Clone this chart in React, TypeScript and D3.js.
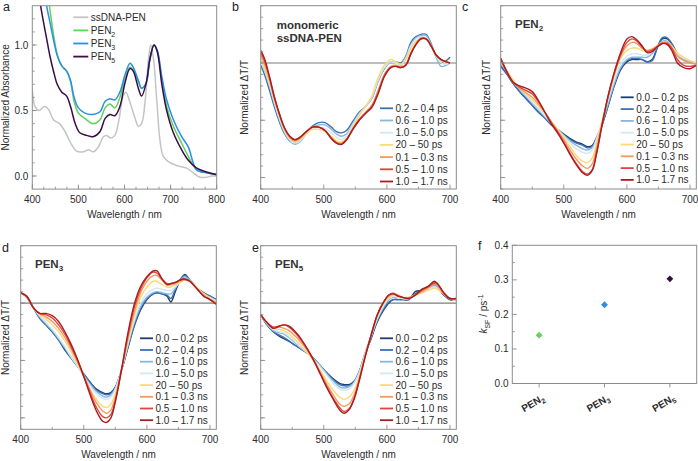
import React from "react";
import * as d3 from "d3";

const FONT = "'Liberation Sans', Arial, Helvetica, sans-serif";
const TXT = "#2b2b2b";
const FRAME = "#8c8c8c";

// ---------- Panel a: steady-state absorbance ----------
const A_SS_WL = [400, 406, 415, 426, 435, 446, 459, 471, 482, 496, 511, 522, 532, 543, 554, 561, 570, 579, 588, 597, 603, 613, 623, 630, 637, 645, 652, 657, 663, 670, 677, 684, 695, 713, 735, 749, 764, 778, 789, 800];
const A_SS_V = [0.66, 0.53, 0.5, 0.53, 0.51, 0.43, 0.4, 0.34, 0.26, 0.19, 0.185, 0.2, 0.185, 0.22, 0.3, 0.31, 0.29, 0.31, 0.43, 0.61, 0.64, 0.55, 0.44, 0.38, 0.4, 0.58, 0.89, 1.0, 0.89, 0.58, 0.27, 0.15, 0.11, 0.08, 0.06, 0.025, -0.01, -0.01, 0.0, 0.0];
const A_P2_WL = [430, 437, 446, 454, 464, 474.5, 483, 490, 500, 514, 532, 547, 558, 568.5, 579, 590, 601, 612, 619, 630, 637, 647, 655, 664, 671, 681, 691.5, 706, 724, 738.5, 756.6, 778, 800];
const A_P2_V = [1.5, 1.3, 1.08, 0.93, 0.84, 0.8, 0.72, 0.58, 0.48, 0.44, 0.4, 0.43, 0.52, 0.55, 0.52, 0.6, 0.74, 0.83, 0.81, 0.72, 0.67, 0.71, 0.89, 1.0, 0.96, 0.73, 0.53, 0.38, 0.25, 0.15, 0.046, 0.025, 0.01];
const A_P3_WL = [424, 431, 438, 446, 454, 464, 474.5, 483, 490, 500, 514, 532, 547, 558, 568.5, 579, 590, 601, 612, 619, 630, 637, 647, 655, 664, 671, 681, 691.5, 706, 724, 738.5, 756.6, 778, 800];
const A_P3_V = [1.5, 1.3, 1.18, 1.04, 0.92, 0.84, 0.8, 0.73, 0.61, 0.52, 0.48, 0.47, 0.49, 0.57, 0.59, 0.58, 0.64, 0.77, 0.86, 0.83, 0.73, 0.67, 0.71, 0.89, 1.0, 0.96, 0.76, 0.58, 0.43, 0.3, 0.22, 0.046, 0.025, 0.013];
const A_P5_WL = [410, 418, 424, 431, 438, 446, 454, 464, 474.5, 483, 493, 503, 518, 532, 547, 558, 568.5, 579, 590, 601, 612, 619, 630, 637, 647, 655, 664, 671, 681, 691.5, 706, 724, 738.5, 756.6, 778, 800];
const A_P5_V = [1.5, 1.3, 1.18, 1.05, 0.92, 0.8, 0.7, 0.64, 0.61, 0.53, 0.4, 0.33, 0.31, 0.3, 0.34, 0.44, 0.47, 0.46, 0.53, 0.71, 0.82, 0.8, 0.67, 0.61, 0.71, 0.89, 1.0, 0.95, 0.7, 0.5, 0.33, 0.2, 0.12, 0.06, 0.03, 0.01];
const A_LABELS = [["ssDNA-PEN", ""], ["PEN", "2"], ["PEN", "3"], ["PEN", "5"]];
const A_COLORS = ["#c4c4c4", "#5fd35a", "#2b8ee6", "#3b0c46"];

// ---------- time-delay legend ----------
const T_LABELS = ["0.0 – 0.2 ps", "0.2 – 0.4 ps", "0.6 – 1.0 ps", "1.0 – 5.0 ps", "20 – 50 ps", "0.1 – 0.3 ns", "0.5 – 1.0 ns", "1.0 – 1.7 ns"];
const T_COLORS = ["#1f3d6f", "#3a72b8", "#88b8de", "#d2e8f5", "#fdd97a", "#f7995c", "#e2433b", "#a71f22"];

// ---------- Panel b ----------
const WL_B = [400, 406, 414, 422, 430, 438, 446, 454, 462, 472, 482, 492, 502, 512, 520, 528, 536, 546, 556, 566, 576, 586, 596, 606, 614, 622, 630, 638, 646, 654, 662, 670, 678, 686, 694, 700];
const B_02 = [-0.02, -0.1, -0.24, -0.39, -0.52, -0.62, -0.68, -0.7, -0.68, -0.61, -0.55, -0.52, -0.52, -0.56, -0.6, -0.61, -0.59, -0.51, -0.43, -0.38, -0.31, -0.16, -0.05, 0.01, 0.01, 0.0, 0.06, 0.18, 0.23, 0.25, 0.25, 0.17, 0.06, 0.0, 0.02, 0.05];
const B_06 = [0.03, -0.06, -0.2, -0.36, -0.5, -0.61, -0.68, -0.71, -0.69, -0.62, -0.56, -0.54, -0.54, -0.58, -0.62, -0.64, -0.62, -0.53, -0.44, -0.38, -0.31, -0.16, -0.05, 0.01, 0.01, -0.01, 0.05, 0.16, 0.22, 0.24, 0.24, 0.16, 0.05, -0.03, -0.02, 0.0];
const B_10 = [0.04, -0.05, -0.19, -0.35, -0.49, -0.6, -0.67, -0.7, -0.68, -0.62, -0.57, -0.56, -0.57, -0.61, -0.65, -0.67, -0.64, -0.54, -0.45, -0.38, -0.3, -0.15, -0.04, 0.01, 0.0, -0.02, 0.04, 0.15, 0.21, 0.23, 0.22, 0.15, 0.06, 0.0, -0.01, 0.0];
const B_20 = [0.05, -0.04, -0.17, -0.33, -0.47, -0.59, -0.66, -0.69, -0.67, -0.62, -0.58, -0.58, -0.6, -0.64, -0.68, -0.69, -0.66, -0.56, -0.46, -0.38, -0.29, -0.13, -0.02, 0.03, 0.01, -0.01, 0.03, 0.13, 0.19, 0.21, 0.21, 0.15, 0.07, 0.02, 0.0, 0.0];
const B_01 = [0.07, -0.01, -0.15, -0.32, -0.46, -0.58, -0.65, -0.68, -0.66, -0.6, -0.56, -0.56, -0.59, -0.65, -0.69, -0.7, -0.67, -0.57, -0.49, -0.43, -0.37, -0.24, -0.1, -0.03, -0.02, -0.03, -0.01, 0.09, 0.17, 0.22, 0.21, 0.15, 0.07, 0.03, 0.01, 0.0];
const B_05 = [0.09, 0.02, -0.13, -0.31, -0.45, -0.57, -0.64, -0.67, -0.65, -0.6, -0.56, -0.56, -0.59, -0.66, -0.7, -0.71, -0.67, -0.58, -0.5, -0.44, -0.38, -0.26, -0.11, -0.04, -0.03, -0.04, -0.02, 0.08, 0.16, 0.21, 0.21, 0.15, 0.07, 0.03, 0.01, 0.0];
const B_17 = [0.11, 0.04, -0.12, -0.3, -0.45, -0.57, -0.64, -0.67, -0.65, -0.6, -0.56, -0.56, -0.59, -0.66, -0.7, -0.71, -0.67, -0.58, -0.5, -0.44, -0.39, -0.27, -0.12, -0.04, -0.03, -0.04, -0.02, 0.08, 0.16, 0.21, 0.21, 0.15, 0.07, 0.03, 0.01, 0.0];

// ---------- Panel c (PEN2) ----------
const WL_C = [400, 410, 420, 430, 440, 450, 460, 470, 480, 490, 500, 510, 520, 530, 537, 545, 552, 560, 570, 580, 590, 600, 608, 616, 624, 632, 640, 648, 656, 664, 672, 680, 690, 700, 710];
const C_00 = [-0.03, -0.1, -0.18, -0.25, -0.31, -0.37, -0.43, -0.48, -0.54, -0.58, -0.62, -0.66, -0.69, -0.71, -0.73, -0.72, -0.65, -0.55, -0.38, -0.2, -0.06, 0.01, 0.03, 0.03, 0.03, 0.01, 0.03, 0.13, 0.21, 0.21, 0.16, 0.08, 0.03, 0.01, 0.0];
const C_02 = [-0.02, -0.1, -0.18, -0.25, -0.31, -0.37, -0.43, -0.48, -0.54, -0.59, -0.63, -0.67, -0.7, -0.72, -0.74, -0.73, -0.66, -0.55, -0.37, -0.19, -0.05, 0.02, 0.04, 0.04, 0.03, 0.01, 0.02, 0.13, 0.22, 0.22, 0.16, 0.08, 0.03, 0.01, 0.0];
const C_06 = [0.0, -0.08, -0.16, -0.23, -0.29, -0.35, -0.41, -0.47, -0.53, -0.58, -0.63, -0.68, -0.72, -0.75, -0.76, -0.74, -0.66, -0.54, -0.36, -0.18, -0.04, 0.03, 0.05, 0.05, 0.05, 0.05, 0.08, 0.14, 0.19, 0.19, 0.14, 0.07, 0.03, 0.01, 0.0];
const C_10 = [0.01, -0.07, -0.15, -0.22, -0.28, -0.34, -0.4, -0.46, -0.52, -0.58, -0.64, -0.7, -0.75, -0.78, -0.79, -0.76, -0.66, -0.52, -0.33, -0.15, -0.01, 0.06, 0.08, 0.08, 0.07, 0.07, 0.1, 0.14, 0.18, 0.18, 0.14, 0.08, 0.04, 0.02, 0.0];
const C_20 = [0.02, -0.07, -0.15, -0.22, -0.27, -0.32, -0.38, -0.44, -0.51, -0.58, -0.65, -0.73, -0.81, -0.86, -0.87, -0.83, -0.7, -0.52, -0.3, -0.11, 0.04, 0.11, 0.13, 0.13, 0.11, 0.1, 0.12, 0.15, 0.18, 0.18, 0.14, 0.09, 0.05, 0.02, 0.0];
const C_01 = [0.03, -0.08, -0.17, -0.22, -0.26, -0.3, -0.36, -0.43, -0.51, -0.59, -0.67, -0.76, -0.84, -0.9, -0.92, -0.88, -0.74, -0.54, -0.3, -0.1, 0.06, 0.15, 0.18, 0.17, 0.13, 0.11, 0.12, 0.15, 0.18, 0.18, 0.13, 0.06, 0.02, 0.0, -0.01];
const C_05 = [0.04, -0.08, -0.17, -0.21, -0.24, -0.27, -0.34, -0.43, -0.52, -0.6, -0.69, -0.79, -0.88, -0.95, -0.97, -0.93, -0.78, -0.56, -0.3, -0.09, 0.07, 0.18, 0.21, 0.19, 0.14, 0.1, 0.11, 0.14, 0.17, 0.17, 0.12, 0.03, -0.02, -0.03, -0.02];
const C_17 = [0.04, -0.08, -0.17, -0.2, -0.22, -0.25, -0.33, -0.43, -0.53, -0.61, -0.7, -0.8, -0.89, -0.96, -0.98, -0.94, -0.79, -0.56, -0.29, -0.08, 0.09, 0.21, 0.23, 0.2, 0.15, 0.09, 0.1, 0.14, 0.17, 0.16, 0.1, 0.0, -0.04, -0.05, -0.02];

// ---------- Panel d (PEN3) ----------
const WL_D = [400, 410, 420, 430, 440, 450, 460, 470, 480, 490, 500, 510, 520, 530, 536, 543, 550, 560, 570, 580, 590, 600, 610, 616, 624, 632, 638, 645, 652, 660, 668, 680, 690, 700, 710];
const D_00 = [0.09, 0.05, -0.04, -0.13, -0.19, -0.25, -0.32, -0.41, -0.48, -0.55, -0.62, -0.69, -0.75, -0.78, -0.79, -0.78, -0.73, -0.58, -0.39, -0.2, -0.06, 0.03, 0.08, 0.09, 0.08, 0.06, 0.01, 0.1, 0.19, 0.25, 0.2, 0.13, 0.09, 0.06, 0.03];
const D_02 = [0.09, 0.05, -0.04, -0.13, -0.19, -0.25, -0.32, -0.4, -0.48, -0.55, -0.62, -0.69, -0.76, -0.79, -0.8, -0.79, -0.74, -0.58, -0.38, -0.19, -0.05, 0.04, 0.08, 0.09, 0.08, 0.07, 0.04, 0.12, 0.2, 0.24, 0.2, 0.13, 0.09, 0.06, 0.03];
const D_06 = [0.09, 0.05, -0.04, -0.12, -0.18, -0.24, -0.31, -0.39, -0.47, -0.55, -0.63, -0.71, -0.77, -0.81, -0.82, -0.8, -0.74, -0.58, -0.37, -0.17, -0.03, 0.05, 0.09, 0.1, 0.09, 0.08, 0.08, 0.13, 0.19, 0.23, 0.2, 0.13, 0.08, 0.05, 0.02];
const D_10 = [0.09, 0.05, -0.04, -0.11, -0.17, -0.23, -0.3, -0.38, -0.47, -0.55, -0.64, -0.72, -0.79, -0.83, -0.84, -0.82, -0.75, -0.57, -0.35, -0.15, 0.0, 0.08, 0.12, 0.13, 0.12, 0.11, 0.11, 0.14, 0.18, 0.21, 0.19, 0.13, 0.08, 0.05, 0.02];
const D_20 = [0.09, 0.05, -0.04, -0.1, -0.14, -0.19, -0.25, -0.33, -0.43, -0.53, -0.64, -0.75, -0.84, -0.9, -0.91, -0.88, -0.79, -0.58, -0.33, -0.11, 0.05, 0.14, 0.19, 0.19, 0.16, 0.14, 0.14, 0.16, 0.18, 0.2, 0.19, 0.13, 0.08, 0.04, 0.01];
const D_01 = [0.09, 0.05, -0.04, -0.09, -0.12, -0.16, -0.22, -0.3, -0.4, -0.51, -0.63, -0.76, -0.87, -0.94, -0.96, -0.93, -0.82, -0.58, -0.31, -0.08, 0.09, 0.19, 0.24, 0.24, 0.2, 0.16, 0.16, 0.17, 0.19, 0.2, 0.19, 0.12, 0.07, 0.03, 0.0];
const D_05 = [0.09, 0.05, -0.04, -0.09, -0.1, -0.13, -0.19, -0.27, -0.38, -0.5, -0.64, -0.78, -0.91, -0.99, -1.0, -0.97, -0.85, -0.58, -0.28, -0.04, 0.12, 0.22, 0.27, 0.26, 0.21, 0.17, 0.17, 0.18, 0.2, 0.21, 0.19, 0.12, 0.06, 0.03, -0.01];
const D_17 = [0.09, 0.06, -0.04, -0.09, -0.09, -0.11, -0.16, -0.25, -0.36, -0.49, -0.64, -0.8, -0.94, -1.03, -1.04, -1.0, -0.86, -0.57, -0.26, -0.01, 0.145, 0.23, 0.28, 0.28, 0.21, 0.16, 0.17, 0.18, 0.2, 0.21, 0.19, 0.12, 0.06, 0.03, -0.01];

// ---------- Panel e (PEN5) ----------
const WL_E = [400, 410, 420, 430, 437, 445, 455, 465, 475, 485, 495, 505, 515, 525, 532, 540, 548, 556, 565, 575, 585, 595, 603, 610, 618, 625, 635, 645, 655, 665, 675, 680, 690, 700, 710];
const E_00 = [-0.1, -0.19, -0.25, -0.29, -0.31, -0.335, -0.37, -0.405, -0.44, -0.49, -0.55, -0.61, -0.66, -0.7, -0.71, -0.71, -0.68, -0.6, -0.45, -0.31, -0.16, -0.06, 0.0, 0.03, 0.03, 0.03, 0.03, 0.1, 0.11, 0.13, 0.16, 0.145, 0.07, 0.03, 0.03];
const E_02 = [-0.1, -0.19, -0.25, -0.28, -0.3, -0.33, -0.37, -0.4, -0.44, -0.49, -0.55, -0.61, -0.67, -0.71, -0.72, -0.72, -0.69, -0.6, -0.45, -0.3, -0.15, -0.05, 0.01, 0.03, 0.03, 0.03, 0.04, 0.08, 0.11, 0.13, 0.17, 0.15, 0.08, 0.03, 0.03];
const E_06 = [-0.1, -0.18, -0.24, -0.26, -0.27, -0.3, -0.35, -0.4, -0.44, -0.49, -0.55, -0.62, -0.68, -0.73, -0.74, -0.73, -0.69, -0.6, -0.44, -0.29, -0.14, -0.03, 0.03, 0.05, 0.05, 0.04, 0.04, 0.07, 0.1, 0.13, 0.15, 0.14, 0.08, 0.04, 0.03];
const E_10 = [-0.1, -0.18, -0.23, -0.25, -0.26, -0.29, -0.34, -0.39, -0.44, -0.5, -0.56, -0.63, -0.7, -0.75, -0.76, -0.75, -0.7, -0.61, -0.45, -0.29, -0.13, -0.02, 0.04, 0.06, 0.05, 0.04, 0.04, 0.07, 0.1, 0.12, 0.14, 0.13, 0.08, 0.04, 0.02];
const E_20 = [-0.1, -0.17, -0.22, -0.23, -0.24, -0.27, -0.32, -0.38, -0.44, -0.51, -0.59, -0.68, -0.76, -0.82, -0.84, -0.82, -0.76, -0.64, -0.46, -0.28, -0.11, 0.0, 0.05, 0.07, 0.06, 0.05, 0.05, 0.07, 0.09, 0.11, 0.13, 0.12, 0.08, 0.04, 0.02];
const E_01 = [-0.1, -0.17, -0.21, -0.21, -0.22, -0.24, -0.29, -0.35, -0.42, -0.51, -0.61, -0.71, -0.8, -0.88, -0.9, -0.88, -0.8, -0.66, -0.47, -0.28, -0.1, 0.01, 0.06, 0.08, 0.07, 0.05, 0.05, 0.07, 0.1, 0.13, 0.16, 0.15, 0.08, 0.04, 0.03];
const E_05 = [-0.1, -0.17, -0.21, -0.2, -0.19, -0.21, -0.26, -0.33, -0.41, -0.51, -0.62, -0.73, -0.83, -0.91, -0.945, -0.92, -0.83, -0.68, -0.48, -0.28, -0.1, 0.01, 0.07, 0.085, 0.06, 0.05, 0.04, 0.07, 0.11, 0.14, 0.18, 0.17, 0.09, 0.04, 0.04];
const E_17 = [-0.1, -0.17, -0.22, -0.2, -0.19, -0.2, -0.25, -0.32, -0.41, -0.51, -0.625, -0.74, -0.84, -0.93, -0.96, -0.93, -0.84, -0.68, -0.48, -0.28, -0.1, 0.01, 0.07, 0.08, 0.06, 0.05, 0.04, 0.07, 0.12, 0.145, 0.19, 0.17, 0.09, 0.04, 0.04];

// ---------- Panel f ----------
const F_CATS = ["PEN2", "PEN3", "PEN5"];
const F_SUBS = ["2", "3", "5"];
const F_VALUES = [0.14, 0.228, 0.303];
const F_COLORS = ["#5fd35a", "#2b8ee6", "#3b0c46"];

type Series = { wl: number[]; v: number[]; color: string };
type Lin = d3.ScaleLinear<number, number>;

function mkLine(x: Lin, y: Lin) {
  return d3
    .line<[number, number]>()
    .x((d) => x(d[0]))
    .y((d) => y(d[1]))
    .curve(d3.curveCatmullRom.alpha(0.5));
}

function Frame({ x, y, id, series, yMajor, yMinor, yLabels, xMajor, xMinor, zero, yTitle, yTitleX, width = 1.4 }: any) {
  const [x0, x1] = x.range();
  const [y1, y0] = y.range();
  const ln = mkLine(x, y);
  const fmt = d3.format(".1f");
  return (
    <g>
      <defs>
        <clipPath id={id}>
          <rect x={x0} y={y0} width={x1 - x0} height={y1 - y0} />
        </clipPath>
      </defs>
      {zero && <line x1={x0} x2={x1} y1={y(0)} y2={y(0)} stroke="#7d7d7d" strokeWidth={1.1} />}
      <g clipPath={`url(#${id})`}>
        {series.map((s: Series, i: number) => (
          <path key={i} d={ln(s.wl.map((w, k) => [w, s.v[k]] as [number, number])) || ""} fill="none" stroke={s.color} strokeWidth={width} strokeLinejoin="round" />
        ))}
      </g>
      <rect x={x0} y={y0} width={x1 - x0} height={y1 - y0} fill="none" stroke={FRAME} strokeWidth={1} />
      {yMinor.map((t: number) => (
        <line key={"ym" + t} x1={x0} x2={x0 + 2.5} y1={y(t)} y2={y(t)} stroke={FRAME} strokeWidth={0.8} />
      ))}
      {yMajor.map((t: number) => (
        <line key={"yM" + t} x1={x0} x2={x0 + 4.5} y1={y(t)} y2={y(t)} stroke={FRAME} strokeWidth={0.9} />
      ))}
      {xMinor.map((t: number) => (
        <line key={"xm" + t} x1={x(t)} x2={x(t)} y1={y1} y2={y1 - 2.5} stroke={FRAME} strokeWidth={0.8} />
      ))}
      {xMajor.map((t: number) => (
        <g key={"xM" + t}>
          <line x1={x(t)} x2={x(t)} y1={y1} y2={y1 - 4.5} stroke={FRAME} strokeWidth={0.9} />
          <text x={x(t)} y={y1 + 13.5} textAnchor="middle" fontSize={10} fill={TXT}>
            {t}
          </text>
        </g>
      ))}
      {(yLabels || []).map((t: number) => (
        <text key={"yl" + t} x={x0 - 4} y={y(t)} dy="0.35em" textAnchor="end" fontSize={10} fill={TXT}>
          {fmt(t)}
        </text>
      ))}
      <text x={(x0 + x1) / 2} y={y1 + 28.5} textAnchor="middle" fontSize={10} fill={TXT}>
        Wavelength / nm
      </text>
      <text transform={`translate(${yTitleX},${(y0 + y1) / 2}) rotate(-90)`} textAnchor="middle" fontSize={10} fill={TXT}>
        {yTitle}
      </text>
    </g>
  );
}

function Legend({ x0, y0, dy, labels, colors, sw = 13 }: any) {
  return (
    <g>
      {labels.map((l: any, i: number) => (
        <g key={i}>
          <line x1={x0} x2={x0 + sw} y1={y0 + i * dy} y2={y0 + i * dy} stroke={colors[i]} strokeWidth={1.8} />
          <text x={x0 + sw + 2.5} y={y0 + i * dy} dy="0.35em" fontSize={10} fill={TXT}>
            {Array.isArray(l) ? (
              <>
                {l[0]}
                {l[1] && (
                  <tspan dy={3} fontSize={7}>
                    {l[1]}
                  </tspan>
                )}
              </>
            ) : (
              l
            )}
          </text>
        </g>
      ))}
    </g>
  );
}

function mkSeries(wl: number[], vals: number[][], colors: string[]): Series[] {
  return vals.map((v, i) => ({ wl, v, color: colors[i] }));
}

export default function App() {
  const wlMajor = [400, 500, 600, 700];
  const wlMinor = d3.range(450, 710, 100);
  const trMajor = [-1, -0.5, 0];
  const trMinor = d3.range(-11, 6).map((k) => k / 10);

  // panel a
  const xa = d3.scaleLinear().domain([400, 800]).range([32.3, 216.7]);
  const ya = d3.scaleLinear().domain([-0.1, 1.3]).range([189.1, 5.7]);
  const seriesA: Series[] = [
    { wl: A_SS_WL, v: A_SS_V, color: A_COLORS[0] },
    { wl: A_P2_WL, v: A_P2_V, color: A_COLORS[1] },
    { wl: A_P3_WL, v: A_P3_V, color: A_COLORS[2] },
    { wl: A_P5_WL, v: A_P5_V, color: A_COLORS[3] },
  ];

  const pxPerNm = (450 - 260.7) / 300;
  const mkX = (left: number) => d3.scaleLinear().domain([400, 710]).range([left, left + 310 * pxPerNm]);
  const yTop = d3.scaleLinear().domain([-1.1, 0.5]).range([189, 5.7]);
  const yBot = d3.scaleLinear().domain([-1.1, 0.5]).range([429.3, 245.7]);

  const seriesB = mkSeries(WL_B, [B_02, B_06, B_10, B_20, B_01, B_05, B_17], T_COLORS.slice(1));
  const seriesC = mkSeries(WL_C, [C_00, C_02, C_06, C_10, C_20, C_01, C_05, C_17], T_COLORS);
  const seriesD = mkSeries(WL_D, [D_00, D_02, D_06, D_10, D_20, D_01, D_05, D_17], T_COLORS);
  const seriesE = mkSeries(WL_E, [E_00, E_02, E_06, E_10, E_20, E_01, E_05, E_17], T_COLORS);

  // panel f
  const xf = d3.scalePoint<string>().domain(F_CATS).range([512.3, 696.7]).padding(0.41);
  const yf = d3.scaleLinear().domain([0, 0.4]).range([383.5, 245.3]);
  const diamond = d3.symbol().type(d3.symbolDiamond2).size(30)() || "";

  const title = { fontSize: 11.5, fontWeight: 700, fill: "#333" } as any;
  const letter = { fontSize: 12.5, fill: "#222" } as any;

  return (
    <svg width={698} height={461} style={{ position: "absolute", left: 0, top: 0, background: "#fff" }} fontFamily={FONT}>
      {/* a */}
      <Frame x={xa} y={ya} id="ca" series={seriesA} yMajor={[0, 0.5, 1.0]} yMinor={d3.range(0, 13).map((k) => k / 10)} yLabels={[0, 0.5, 1.0]} xMajor={[400, 500, 600, 700, 800]} xMinor={d3.range(425, 800, 25)} yTitle="Normalized Absorbance" yTitleX={9} width={1.5} />
      <Legend x0={73.3} y0={17.3} dy={13.1} labels={A_LABELS} colors={A_COLORS} sw={15} />
      <text x={3} y={11} {...letter}>a</text>

      {/* b */}
      <Frame x={mkX(260.7)} y={yTop} id="cb" series={seriesB} yMajor={trMajor} yMinor={trMinor} xMajor={wlMajor} xMinor={wlMinor} zero yTitle="Normalized ΔT/T" yTitleX={248} />
      <Legend x0={380} y0={108.3} dy={12.2} labels={T_LABELS.slice(1)} colors={T_COLORS.slice(1)} />
      <text x={276.7} y={29} {...title}>monomeric</text>
      <text x={276.7} y={41.5} {...title}>ssDNA-PEN</text>
      <text x={232} y={11} {...letter}>b</text>

      {/* c */}
      <Frame x={mkX(500.7)} y={yTop} id="cc" series={seriesC} yMajor={trMajor} yMinor={trMinor} xMajor={wlMajor} xMinor={wlMinor} zero yTitle="Normalized ΔT/T" yTitleX={490} />
      <Legend x0={620.7} y0={97.3} dy={11.8} labels={T_LABELS} colors={T_COLORS} />
      <text x={515} y={28} {...title}>
        PEN<tspan dy={3} fontSize={8}>2</tspan>
      </text>
      <text x={462} y={11} {...letter}>c</text>

      {/* d */}
      <Frame x={mkX(20.7)} y={yBot} id="cd" series={seriesD} yMajor={trMajor} yMinor={trMinor} xMajor={wlMajor} xMinor={wlMinor} zero yTitle="Normalized ΔT/T" yTitleX={9} />
      <Legend x0={140} y0={338.3} dy={11.7} labels={T_LABELS} colors={T_COLORS} />
      <text x={35} y={268} {...title}>
        PEN<tspan dy={3} fontSize={8}>3</tspan>
      </text>
      <text x={2} y={251.5} {...letter}>d</text>

      {/* e */}
      <Frame x={mkX(260.7)} y={yBot} id="ce" series={seriesE} yMajor={trMajor} yMinor={trMinor} xMajor={wlMajor} xMinor={wlMinor} zero yTitle="Normalized ΔT/T" yTitleX={248} />
      <Legend x0={380} y0={338.3} dy={11.7} labels={T_LABELS} colors={T_COLORS} />
      <text x={275} y={268} {...title}>
        PEN<tspan dy={3} fontSize={8}>5</tspan>
      </text>
      <text x={252} y={251.5} {...letter}>e</text>

      {/* f */}
      <g>
        <rect x={512.3} y={245.3} width={696.7 - 512.3} height={383.5 - 245.3} fill="none" stroke={FRAME} strokeWidth={1} />
        {d3.range(0, 0.401, 0.05).map((t) => (
          <line key={"fm" + t} x1={512.3} x2={512.3 + (Math.round(t * 100) % 10 === 0 ? 4.5 : 2.5)} y1={yf(t)} y2={yf(t)} stroke={FRAME} strokeWidth={0.9} />
        ))}
        {[0, 0.1, 0.2, 0.3, 0.4].map((t) => (
          <text key={"fl" + t} x={508.5} y={yf(t)} dy="0.35em" textAnchor="end" fontSize={10} fill={TXT}>
            {t.toFixed(1)}
          </text>
        ))}
        {F_CATS.map((c, i) => (
          <g key={c}>
            <line x1={xf(c)} x2={xf(c)} y1={383.5} y2={387.5} stroke={FRAME} strokeWidth={0.9} />
            <text transform={`translate(${(xf(c) || 0) + 6},${400}) rotate(-30)`} textAnchor="end" fontSize={10} fontWeight={700} fill={TXT}>
              PEN<tspan dy={2.5} fontSize={7}>{F_SUBS[i]}</tspan>
            </text>
            <path d={diamond} transform={`translate(${xf(c)},${yf(F_VALUES[i])})`} fill={F_COLORS[i]} />
          </g>
        ))}
        <text transform={`translate(487,314) rotate(-90)`} textAnchor="middle" fontSize={10} fill={TXT}>
          <tspan fontStyle="italic">k</tspan>
          <tspan dy={2.5} fontSize={7}>SF</tspan>
          <tspan dy={-2.5}> / ps</tspan>
          <tspan dy={-4} fontSize={7}>-1</tspan>
        </text>
        <text x={478} y={250} {...letter}>f</text>
      </g>
    </svg>
  );
}
